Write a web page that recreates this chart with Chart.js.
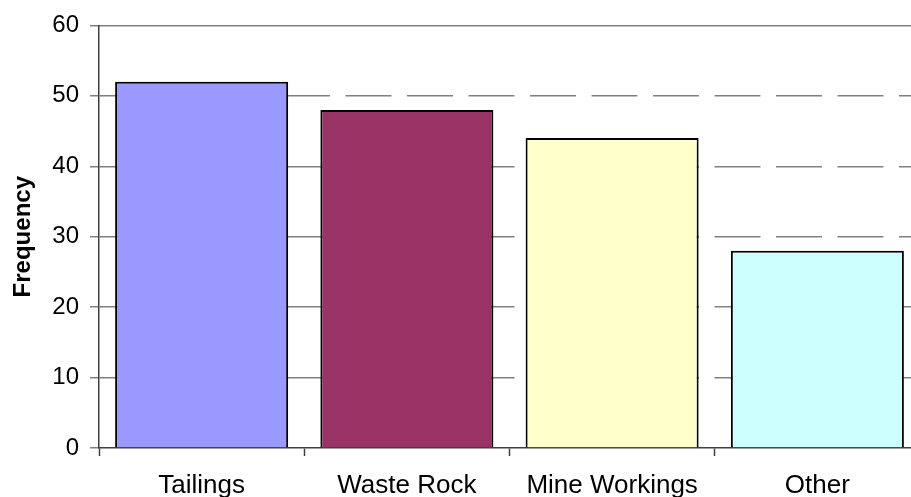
<!DOCTYPE html>
<html>
<head>
<meta charset="utf-8">
<script src="https://cdn.jsdelivr.net/npm/chart.js@4"></script>
<style>
  html, body { margin: 0; padding: 0; background: #fff; overflow: hidden; }
  #wrap { width: 911px; height: 497px; overflow: hidden; }
  #box { width: 920px; height: 497px; }
</style>
</head>
<body>
<div id="wrap"><div id="box"><canvas id="freqChart"></canvas></div></div>
<script>
  const categories = ["Tailings", "Waste Rock", "Mine Workings", "Other"];
  const frequency = [52, 48, 44, 28];
  const barColors = ["#9999FF", "#993366", "#FFFFCC", "#CCFFFF"];
  const yTicks = [0, 10, 20, 30, 40, 50, 60];

  const fontFamily = "'Liberation Sans', Arial, sans-serif";

  const ctx = document.getElementById('freqChart').getContext('2d');
  new Chart(ctx, {
    type: 'bar',
    data: {
      labels: categories,
      datasets: [{
        label: 'Frequency',
        data: frequency,
        backgroundColor: barColors,
        borderColor: '#000000',
        borderWidth: 2,
        barPercentage: 0.843,
        categoryPercentage: 1.0,
      }],
    },
    options: {
      responsive: true,
      maintainAspectRatio: false,
      animation: false,
      layout: { padding: 0 },
      plugins: {
        legend: { display: false },
        tooltip: { enabled: false },
      },
      scales: {
        x: {
          position: 'bottom',
          grid: {
            offset: true,
            drawOnChartArea: false,
            drawTicks: true,
            tickLength: 8,
            tickColor: '#404040',
            tickWidth: 1.5,
          },
          border: { color: '#404040', width: 1.5 },
          ticks: {
            color: '#000',
            padding: 14,
            font: { family: fontFamily, size: 26 },
          },
          afterFit: (scale) => { scale.height = 49; },
        },
        xTop: {
          type: 'category',
          axis: 'x',
          position: 'top',
          labels: categories,
          grid: { display: false },
          border: { color: '#808080', width: 1.5 },
          ticks: { display: false },
          afterFit: (scale) => { scale.height = 24; },
        },
        y: {
          min: 0,
          max: 60,
          afterBuildTicks: (scale) => { scale.ticks = yTicks.map(v => ({ value: v })); },
          grid: {
            color: (c) => (c.tick && (c.tick.value === 0 || c.tick.value === 60)) ? 'rgba(0,0,0,0)' : '#808080',
            lineWidth: 1.5,
            tickColor: '#808080',
            tickLength: 9,
            tickBorderDash: [],
          },
          border: { color: '#404040', width: 1.5, dash: [46, 15.5] },
          ticks: {
            color: '#000',
            padding: 11,
            font: { family: fontFamily, size: 24 },
          },
          title: {
            display: true,
            text: 'Frequency',
            color: '#000',
            padding: { top: 9, bottom: 0 },
            font: { family: fontFamily, size: 24, weight: 'bold' },
          },
          afterFit: (scale) => { scale.width = 99; },
        },
      },
    },
  });
</script>
</body>
</html>
